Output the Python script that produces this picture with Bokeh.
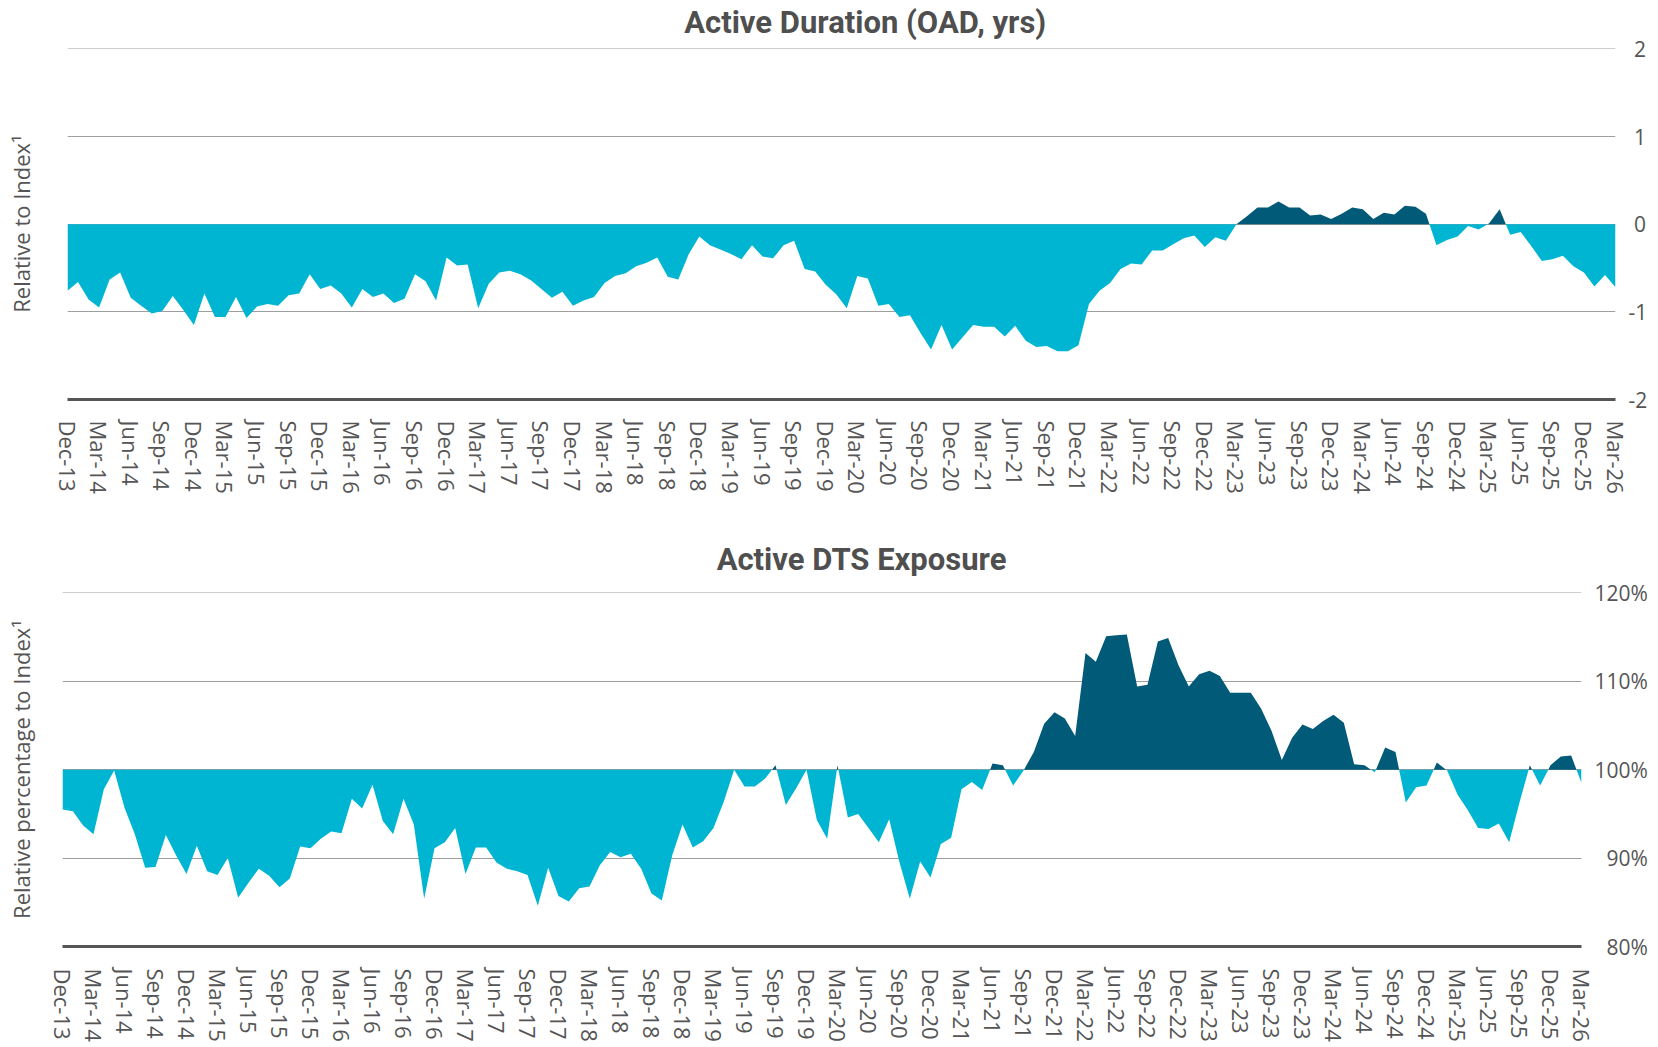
from bokeh.plotting import figure
from bokeh.models import Range1d, FixedTicker, LinearAxis, ColumnDataSource
from bokeh.embed import file_html
from bokeh.resources import INLINE

# ---------------- data ----------------
tick_labels = ["Dec-13", "Mar-14", "Jun-14", "Sep-14", "Dec-14", "Mar-15", "Jun-15", "Sep-15",
               "Dec-15", "Mar-16", "Jun-16", "Sep-16", "Dec-16", "Mar-17", "Jun-17", "Sep-17",
               "Dec-17", "Mar-18", "Jun-18", "Sep-18", "Dec-18", "Mar-19", "Jun-19", "Sep-19",
               "Dec-19", "Mar-20", "Jun-20", "Sep-20", "Dec-20", "Mar-21", "Jun-21", "Sep-21",
               "Dec-21", "Mar-22", "Jun-22", "Sep-22", "Dec-22", "Mar-23", "Jun-23", "Sep-23",
               "Dec-23", "Mar-24", "Jun-24", "Sep-24", "Dec-24", "Mar-25", "Jun-25", "Sep-25",
               "Dec-25", "Mar-26"]

# Active duration (OAD, yrs) relative to index, monthly Dec-13 .. Mar-26
oad = [-0.76, -0.66, -0.86, -0.95, -0.63, -0.55, -0.84, -0.93, -1.02, -0.99,
       -0.82, -0.98, -1.15, -0.79, -1.06, -1.06, -0.83, -1.07, -0.94, -0.91,
       -0.93, -0.81, -0.79, -0.57, -0.74, -0.70, -0.79, -0.95, -0.74, -0.83,
       -0.79, -0.90, -0.85, -0.57, -0.65, -0.87, -0.38, -0.47, -0.46, -0.96,
       -0.68, -0.55, -0.53, -0.57, -0.64, -0.74, -0.84, -0.77, -0.93, -0.87,
       -0.83, -0.67, -0.59, -0.56, -0.48, -0.44, -0.38, -0.60, -0.63, -0.34,
       -0.14, -0.24, -0.29, -0.34, -0.40, -0.24, -0.37, -0.39, -0.24, -0.19,
       -0.51, -0.54, -0.69, -0.80, -0.96, -0.59, -0.62, -0.93, -0.91, -1.06,
       -1.04, -1.24, -1.43, -1.15, -1.43, -1.29, -1.15, -1.17, -1.17, -1.28,
       -1.16, -1.33, -1.40, -1.39, -1.45, -1.45, -1.38, -0.91, -0.76, -0.67,
       -0.51, -0.45, -0.46, -0.30, -0.30, -0.23, -0.16, -0.13, -0.26, -0.15,
       -0.19, 0.00, 0.09, 0.19, 0.19, 0.26, 0.19, 0.19, 0.10, 0.11,
       0.06, 0.12, 0.19, 0.17, 0.06, 0.13, 0.11, 0.21, 0.20, 0.12,
       -0.24, -0.18, -0.14, -0.02, -0.06, 0.01, 0.17, -0.12, -0.09, -0.25,
       -0.42, -0.40, -0.36, -0.48, -0.55, -0.71, -0.58, -0.72]

# Active DTS exposure, % of index, monthly Dec-13 .. Mar-26
dts = [95.5, 95.3, 93.7, 92.7, 97.8, 99.9, 95.7, 92.7, 88.9, 89.0,
       92.6, 90.3, 88.2, 91.4, 88.5, 88.1, 90.0, 85.5, 87.2, 88.8,
       88.0, 86.7, 87.7, 91.3, 91.1, 92.2, 93.0, 92.8, 96.7, 95.6,
       98.3, 94.2, 92.7, 96.7, 93.8, 85.4, 91.1, 91.8, 93.4, 88.2,
       91.2, 91.2, 89.5, 88.8, 88.5, 88.1, 84.6, 88.9, 85.7, 85.1,
       86.6, 86.8, 89.2, 90.7, 90.1, 90.5, 88.8, 86.0, 85.2, 90.3,
       93.8, 91.2, 91.9, 93.4, 96.4, 100.0, 98.1, 98.1, 99.0, 100.5,
       96.0, 97.9, 100.0, 94.3, 92.2, 100.5, 94.6, 95.0, 93.4, 91.8,
       94.4, 89.5, 85.4, 89.6, 87.8, 91.6, 92.3, 97.8, 98.6, 97.7,
       100.7, 100.5, 98.2, 99.9, 102.0, 105.2, 106.5, 105.8, 103.8, 113.2,
       112.2, 115.1, 115.2, 115.3, 109.4, 109.6, 114.5, 114.9, 111.8, 109.4,
       110.8, 111.2, 110.6, 108.7, 108.7, 108.7, 106.9, 104.4, 101.1, 103.6,
       105.1, 104.6, 105.5, 106.2, 105.3, 100.6, 100.5, 99.7, 102.5, 102.0,
       96.3, 98.0, 98.2, 100.8, 99.9, 97.2, 95.4, 93.4, 93.3, 93.9,
       91.8, 96.3, 100.5, 98.2, 100.5, 101.5, 101.6, 98.5]

oad_ticks = [-2, -1, 0, 1, 2]
oad_tick_labels = ["-2", "-1", "\u20080", "\u20081", "\u20082"]
dts_ticks = [80, 90, 100, 110, 120]
dts_tick_labels = ["\u200780%", "\u200790%", "100%", "110%", "120%"]

CYAN = "#00b5d2"
DARK = "#005a78"
TXT = "#555555"
GRID = "#9e9e9e"


def split_fill(y, base):
    """Insert baseline crossing points so above/below areas meet exactly."""
    xs, ypos, yneg = [], [], []
    for i, v in enumerate(y):
        if i > 0:
            a, b = y[i - 1] - base, v - base
            if a * b < 0:
                t = a / (a - b)
                xs.append(i - 1 + t)
                ypos.append(base)
                yneg.append(base)
        xs.append(float(i))
        ypos.append(max(v, base))
        yneg.append(min(v, base))
    return ColumnDataSource(dict(x=xs, ypos=ypos, yneg=yneg, base=[base] * len(xs)))


def empty_axis(**kw):
    return LinearAxis(ticker=FixedTicker(ticks=[]), axis_line_color=None,
                      major_tick_line_color=None, minor_tick_line_color=None,
                      major_tick_out=0, minor_tick_out=0, major_label_standoff=0, **kw)


def make_panel(values, base, yr, yticks, ylabels, title, title_gap,
               ylab, ylab_standoff, width, height, borders, xstandoff):
    n = len(values)
    p = figure(width=width, height=height, x_range=Range1d(0, n - 1), y_range=Range1d(*yr),
               y_axis_location="right", toolbar_location=None, output_backend="svg",
               title_location=None,
               min_border_left=borders[0], min_border_right=borders[1],
               min_border_top=borders[2], min_border_bottom=borders[3])
    p.outline_line_color = None
    p.background_fill_color = "white"
    p.border_fill_color = "white"

    src = split_fill(values, base)
    p.varea(x="x", y1="base", y2="yneg", source=src, fill_color=CYAN)
    p.varea(x="x", y1="base", y2="ypos", source=src, fill_color=DARK)

    # x axis
    tick_pos = list(range(0, n, 3))
    p.xaxis.ticker = FixedTicker(ticks=tick_pos)
    p.xaxis.major_label_overrides = {t: lab for t, lab in zip(tick_pos, tick_labels)}
    p.xaxis.major_label_orientation = "vertical"
    p.xaxis.major_label_text_font = "Open Sans"
    p.xaxis.major_label_text_font_size = "22px"
    p.xaxis.major_label_text_color = TXT
    p.xaxis.major_label_standoff = xstandoff
    p.xaxis.major_tick_line_color = None
    p.xaxis.minor_tick_line_color = None
    p.xaxis.axis_line_width = 3
    p.xaxis.axis_line_color = "#555555"
    p.xgrid.grid_line_color = None

    # y axis (right)
    p.yaxis.ticker = FixedTicker(ticks=yticks)
    p.yaxis.major_label_overrides = {t: lab for t, lab in zip(yticks, ylabels)}
    p.yaxis.major_label_text_font = "Open Sans"
    p.yaxis.major_label_text_font_size = "21px"
    p.yaxis.major_label_text_color = TXT
    p.yaxis.major_label_standoff = 7
    p.yaxis.major_tick_line_color = None
    p.yaxis.minor_tick_line_color = None
    p.yaxis.axis_line_color = None
    p.ygrid.grid_line_color = GRID
    p.ygrid.grid_line_width = 1

    # y-axis caption on the left (an empty axis that only carries its label)
    p.add_layout(empty_axis(axis_label=ylab, axis_label_standoff=ylab_standoff,
                            axis_label_text_font="Open Sans",
                            axis_label_text_font_size="22px",
                            axis_label_text_font_style="normal",
                            axis_label_text_color=TXT), "left")

    # chart title, carried by an empty axis above the frame
    p.add_layout(empty_axis(axis_label=title, axis_label_standoff=title_gap,
                            axis_label_text_font="Roboto",
                            axis_label_text_font_size="31px",
                            axis_label_text_font_style="bold",
                            axis_label_text_color="#4f4f4f"), "above")
    return p


# leading em/en spaces nudge the centred title to the right, as in the original
p1 = make_panel(oad, 0, (-2, 2.004), oad_ticks, oad_tick_labels,
                "\u2003\u2002Active Duration (OAD, yrs)", 8,
                "Relative to Index\u00b9", 32, 1650, 530, (67, 31, 48, 131), 15)

p2 = make_panel(dts, 100, (80, 120.04), dts_ticks, dts_tick_labels,
                "\u2003\u2003\u2002Active DTS Exposure", 15,
                "Relative percentage to Index\u00b9", 27, 1650, 514, (62, 62, 62, 98), 16)

open("out.html", "w").write(file_html([p1, p2], INLINE))
